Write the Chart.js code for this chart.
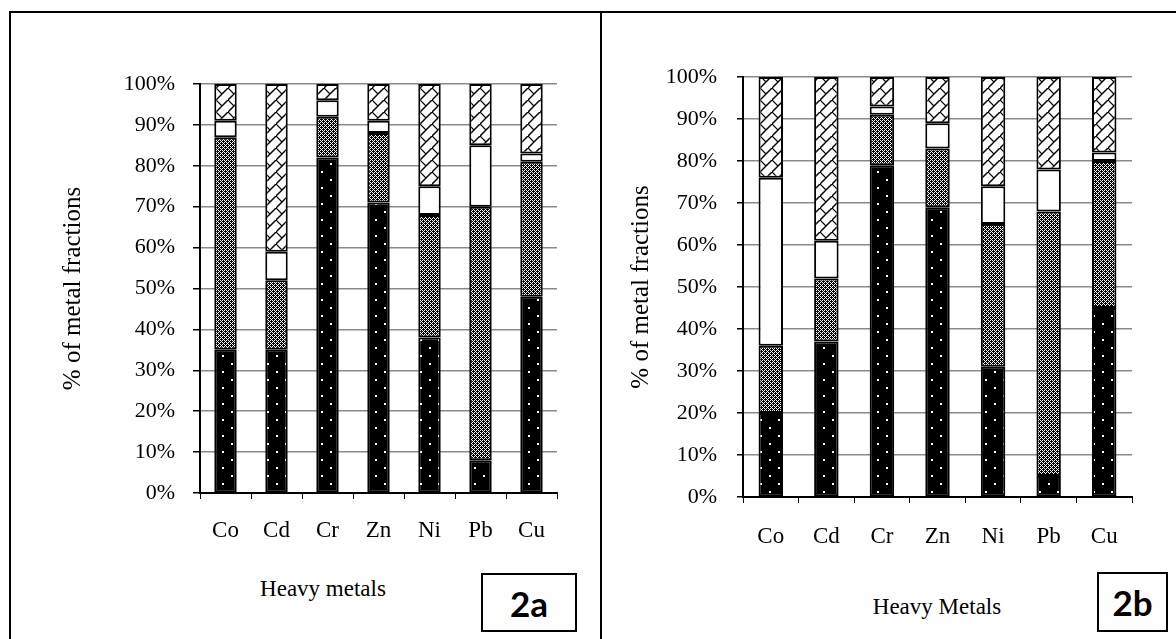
<!DOCTYPE html>
<html>
<head>
<meta charset="utf-8">
<script src="https://cdn.jsdelivr.net/npm/chart.js@4.4.1/dist/chart.umd.min.js"></script>
<style>
  html, body { margin: 0; padding: 0; background: #fff; overflow: hidden; }
  body { width: 1176px; height: 639px; position: relative; }
  .frame { position: absolute; left: 9px; top: 11px; width: 1200px; height: 700px; border: 2px solid #000; box-sizing: border-box; }
  .divider { position: absolute; left: 600px; top: 11px; width: 2px; height: 700px; background: #000; }
  canvas { position: absolute; }
  .xtitle { position: absolute; font-family: "Liberation Serif", serif; font-size: 23px; color: #000; transform: translate(-50%, -50%); white-space: nowrap; }
  .tag { position: absolute; border: 2px solid #000; box-sizing: border-box; background: #fff;
         font-family: Lato, "Open Sans", sans-serif; font-weight: 700; font-size: 35px; color: #000;
         display: flex; align-items: center; justify-content: center; }
</style>
</head>
<body>
<div class="frame"></div>
<div class="divider"></div>
<canvas id="chartA" width="580" height="513" style="left:12px; top:40px;"></canvas>
<canvas id="chartB" width="570" height="517" style="left:604px; top:40px;"></canvas>
<div class="xtitle" style="left:323px; top:589px;">Heavy metals</div>
<div class="xtitle" style="left:937px; top:607px;">Heavy Metals</div>
<div class="tag" style="left:481px; top:573px; width:96px; height:59px;">2a</div>
<div class="tag" style="left:1097px; top:572px; width:71px; height:60px;">2b</div>
<script>
// metals on the x axis
var metals = ['Co', 'Cd', 'Cr', 'Zn', 'Ni', 'Pb', 'Cu'];
var yTicks = [0, 10, 20, 30, 40, 50, 60, 70, 80, 90, 100];

// fig 2a - fractions (%), stacked bottom to top
var frac1A = [35, 35, 82, 71, 38, 8, 48];
var frac2A = [52, 17, 10, 17, 30, 62, 33];
var frac3A = [4, 7, 4, 3, 7, 15, 2];
var frac4A = [9, 41, 4, 9, 25, 15, 17];

// fig 2b
var frac1B = [20, 37, 79, 69, 31, 5, 45];
var frac2B = [16, 15, 12, 14, 34, 63, 35];
var frac3B = [40, 9, 2, 6, 9, 10, 2];
var frac4B = [24, 39, 7, 11, 26, 22, 18];

// fill patterns like the old excel ones
function makeTile(w, h, draw) {
  var c = document.createElement('canvas');
  c.width = w; c.height = h;
  var g = c.getContext('2d');
  draw(g);
  return c;
}
function dottedPattern(ctx) {
  var t = makeTile(18, 16, function(g) {
    g.fillStyle = '#000'; g.fillRect(0, 0, 18, 16);
    g.fillStyle = '#fff';
    g.fillRect(3, 3, 2, 2);
    g.fillRect(12, 11, 2, 2);
  });
  return ctx.createPattern(t, 'repeat');
}
function checkPattern(ctx) {
  var t = makeTile(4, 4, function(g) {
    g.fillStyle = '#000'; g.fillRect(0, 0, 4, 4);
    g.fillStyle = '#fff';
    g.fillRect(0, 0, 1, 1);
    g.fillRect(2, 2, 1, 1);
    g.fillRect(2, 0, 1, 1);
    g.fillRect(0, 2, 1, 1);
    g.fillRect(1, 1, 1, 1);
    g.fillRect(3, 3, 1, 1);
  });
  return ctx.createPattern(t, 'repeat');
}
function brickPattern(ctx) {
  var t = makeTile(12, 12, function(g) {
    g.fillStyle = '#fff'; g.fillRect(0, 0, 12, 12);
    g.strokeStyle = '#000'; g.lineWidth = 1.5;
    g.beginPath();
    g.moveTo(-1, 13); g.lineTo(13, -1);
    g.stroke();
    g.lineWidth = 1.2;
    g.beginPath();
    g.moveTo(0, 0); g.lineTo(6, 6);
    g.stroke();
  });
  return ctx.createPattern(t, 'repeat');
}

var serif = 'Liberation Serif';

function makeChart(id, fracs, opt) {
  var el = document.getElementById(id);
  var ctx = el.getContext('2d');
  var fills = [dottedPattern(ctx), checkPattern(ctx), '#fff', brickPattern(ctx)];
  var datasets = fracs.map(function(d, i) {
    return {
      data: d,
      backgroundColor: fills[i],
      borderColor: '#000',
      borderWidth: 2,
      borderSkipped: false,
      barPercentage: 0.44,
      categoryPercentage: 1
    };
  });
  return new Chart(ctx, {
    type: 'bar',
    data: { labels: metals, datasets: datasets },
    options: {
      responsive: false,
      animation: false,
      layout: { padding: { top: opt.padTop, right: opt.padRight, bottom: 0, left: 0 } },
      plugins: { legend: { display: false }, tooltip: { enabled: false } },
      scales: {
        x: {
          stacked: true,
          afterFit: function(s) { s.height = 60; },
          grid: { drawOnChartArea: false, offset: true, tickLength: 6, color: '#000', lineWidth: 1 },
          border: { color: '#000', width: 2 },
          ticks: { color: '#000', padding: opt.xPad, font: { family: serif, size: 23 } }
        },
        y: {
          stacked: true,
          min: 0,
          max: 100,
          afterFit: function(s) { s.width = opt.yWidth; },
          afterBuildTicks: function(s) { s.ticks = yTicks.map(function(v) { return { value: v }; }); },
          grid: { color: '#8a8a8a', lineWidth: 1.5, tickLength: opt.tickLen, tickColor: '#000' },
          border: { color: '#000', width: 2 },
          ticks: { color: '#000', padding: opt.yPad, font: { family: serif, size: 22 },
                   callback: function(v) { return v + '%'; } },
          title: { display: true, text: '% of metal fractions', color: '#000',
                   padding: { top: opt.titlePad, bottom: 0 }, font: { family: serif, size: 25 } }
        }
      }
    }
  });
}

makeChart('chartA', [frac1A, frac2A, frac3A, frac4A],
  { padTop: 44, padRight: 35, yWidth: 188, tickLen: 7, yPad: 18, xPad: 18, titlePad: 46 });
makeChart('chartB', [frac1B, frac2B, frac3B, frac4B],
  { padTop: 37, padRight: 42, yWidth: 139, tickLen: 6, yPad: 20, xPad: 20, titlePad: 22 });
</script>
</body>
</html>
